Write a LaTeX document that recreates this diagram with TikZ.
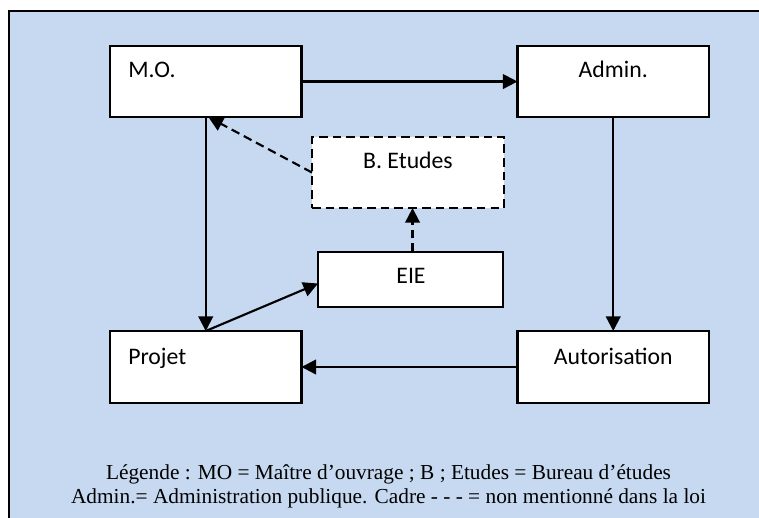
\documentclass[tikz,border=0pt]{standalone}
\usepackage{fontspec}
\setmainfont{Liberation Serif}
\newfontfamily\boxfont{Carlito}
\usetikzlibrary{arrows.meta,calc}
\definecolor{bgblue}{RGB}{198,217,241}
\tikzset{
  box/.style={draw=black, line width=1.6pt, fill=white, anchor=north west, inner sep=0pt, outer sep=0pt},
  dbox/.style={box, dash pattern=on 6.5pt off 3.8pt},
  btext/.style={font=\boxfont\fontsize{17.8pt}{20pt}\selectfont, inner sep=0pt},
  conn/.style={line width=1.6pt, -{Triangle[length=11pt,width=11pt]}, shorten >=0pt},
  dconn/.style={conn, dash pattern=on 6.5pt off 3.8pt},
  legend/.style={font=\fontsize{16pt}{16pt}\selectfont, inner sep=0pt, anchor=base}
}
\begin{document}
\begin{tikzpicture}[x=0.75pt,y=-0.75pt]
\useasboundingbox (0,0) rectangle (759,517);
\clip (0,0) rectangle (759,517);
\path[fill=white] (0,0) rectangle (759,517);
\draw[fill=bgblue, line width=1.4pt] (9,11) rectangle (775,535);
% boxes
\node[box, minimum width=143.6pt, minimum height=53.3pt] (MO) at (110,46) {};
\node[box, minimum width=143.6pt, minimum height=53.3pt] (AD) at (517.5,46) {};
\node[dbox, minimum width=144pt, minimum height=53.3pt] (BE) at (312,137) {};
\node[box, minimum width=138.8pt, minimum height=41.3pt] (EIE) at (318,252) {};
\node[box, minimum width=143.6pt, minimum height=54pt] (PR) at (110,331) {};
\node[box, minimum width=143.6pt, minimum height=54pt] (AU) at (517.5,331) {};
% texts
\node[btext, anchor=base west] (tMO) at (128,78) {M.O.};
\node[btext, anchor=base] (tAD) at (613.25,78) {Admin.};
\node[btext, anchor=base] (tBE) at (408,168) {B. Etudes};
\node[btext, anchor=base] (tEIE) at (411,283.5) {EIE};
\node[btext, anchor=base west] (tPR) at (128,364) {Projet};
\node[btext, anchor=base] (tAU) at (613.25,364) {Autorisation};
% connectors
\draw[conn] (MO.east) -- (AD.west);
\draw[conn] (MO.south) -- (PR.north);
\draw[conn] (PR.north) -- ([yshift=-3pt]EIE.west);
\draw[conn] (AD.south) -- (AU.north);
\draw[conn] (AU.west) -- (PR.east);
\draw[dconn] ([xshift=1.5pt]EIE.north) -- ([xshift=1.5pt]EIE.north |- BE.south);
\draw[dconn] (BE.west) -- ([xshift=2pt]MO.south);
% legend
\node[legend] (L1) at (388.5,479) {Légende : MO = Maître d’ouvrage ; B ; Etudes = Bureau d’études};
\node[legend] (L2) at (388.5,503) {Admin.= Administration publique. Cadre - - - = non mentionné dans la loi};
\end{tikzpicture}
\end{document}
